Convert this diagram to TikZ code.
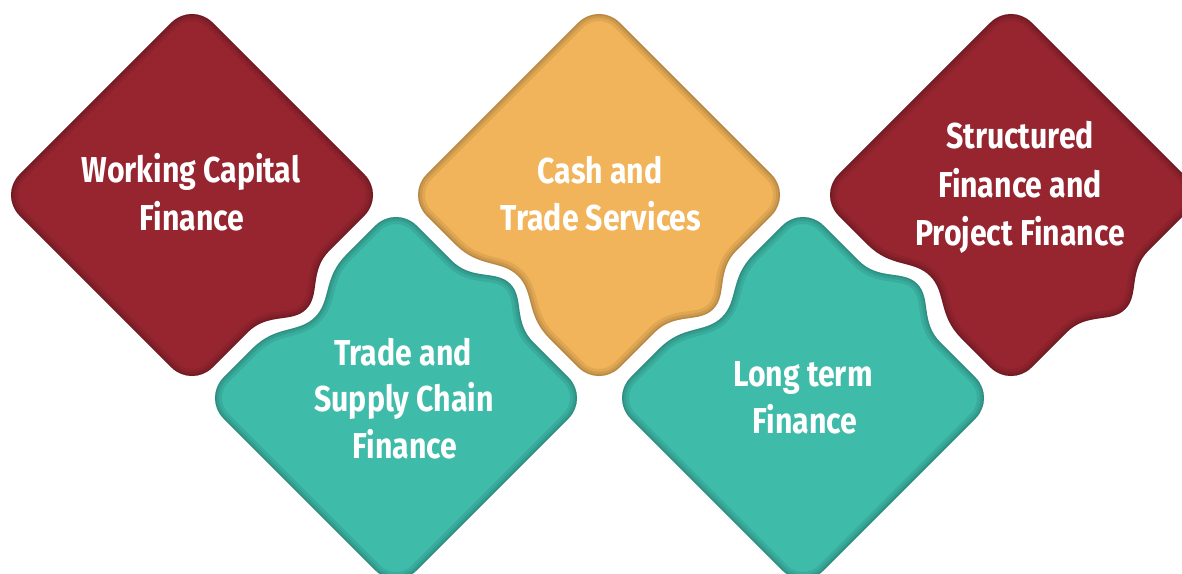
\documentclass[tikz,border=0pt]{standalone}
\usepackage{fontspec}
\newfontfamily\lblfont{Fira Sans}[FakeStretch=0.84]
\definecolor{cred}{HTML}{962530}
\definecolor{cyel}{HTML}{F2B45A}
\definecolor{cteal}{HTML}{3EBBA9}
\def\blH{136.5}
\def\blWb{58}
\def\blWd{66}
\def\blR{29}
\def\blK{13}
% #1 bottom-right bump, #2 bottom-left, #3 top-left, #4 top-right (positive = outward)
\newcommand\blobpath[4]{(0,{-\blH-(#4)})
 .. controls ({0.35*\blWb},{-\blH-(#4)}) and ({0.5*\blWb},-\blH) .. (\blWb,-\blH)
 -- ({\blH-\blR},-\blH) .. controls ({\blH-\blK},-\blH) and (\blH,{-\blH+\blK}) .. (\blH,{-\blH+\blR})
 -- (\blH,-\blWb) .. controls (\blH,{-0.5*\blWb}) and ({\blH+(#1)},{-0.35*\blWb}) .. ({\blH+(#1)},0)
 .. controls ({\blH+(#1)},{0.35*\blWb}) and (\blH,{0.5*\blWb}) .. (\blH,\blWb)
 -- (\blH,{\blH-\blR}) .. controls (\blH,{\blH-\blK}) and ({\blH-\blK},\blH) .. ({\blH-\blR},\blH)
 -- (\blWd,\blH) .. controls ({0.5*\blWd},\blH) and ({0.35*\blWd},{\blH+(#2)}) .. (0,{\blH+(#2)})
 .. controls ({-0.35*\blWd},{\blH+(#2)}) and ({-0.5*\blWd},\blH) .. (-\blWd,\blH)
 -- ({-\blH+\blR},\blH) .. controls ({-\blH+\blK},\blH) and (-\blH,{\blH-\blK}) .. (-\blH,{\blH-\blR})
 -- (-\blH,\blWd) .. controls (-\blH,{0.5*\blWd}) and ({-\blH-(#3)},{0.35*\blWd}) .. ({-\blH-(#3)},0)
 .. controls ({-\blH-(#3)},{-0.35*\blWd}) and (-\blH,{-0.5*\blWd}) .. (-\blH,-\blWd)
 -- (-\blH,{-\blH+\blR}) .. controls (-\blH,{-\blH+\blK}) and ({-\blH+\blK},-\blH) .. ({-\blH+\blR},-\blH)
 -- (-\blWb,-\blH) .. controls ({-0.5*\blWb},-\blH) and ({-0.35*\blWb},{-\blH-(#4)}) .. (0,{-\blH-(#4)}) -- cycle}
% #1 cx, #2 cy, #3 colour, #4..#7 bumps
\newcommand\blob[7]{%
  \begin{scope}[shift={(#1,#2)}, x={(0.70711pt,-0.70711pt)}, y={(-0.70711pt,-0.70711pt)}]
    \fill[#3] \blobpath{#4}{#5}{#6}{#7};
    \begin{scope}
      \clip \blobpath{#4}{#5}{#6}{#7};
      \draw[black, opacity=0.07, line width=14pt] \blobpath{#4}{#5}{#6}{#7};
      \draw[black, opacity=0.08, line width=8pt] \blobpath{#4}{#5}{#6}{#7};
      \draw[black, opacity=0.10, line width=3pt] \blobpath{#4}{#5}{#6}{#7};
    \end{scope}
  \end{scope}}
\tikzset{lbl/.style={anchor=base, text=white, inner sep=0pt, font=\lblfont\bfseries\fontsize{36}{40}\selectfont}}
\begin{document}
\begin{tikzpicture}[x=1pt, y=-1pt]
\useasboundingbox (0,0) rectangle (1182,573);
\blob{192}{195}{cred}{25}{0}{0}{0}
\blob{396}{398}{cteal}{0}{0}{-22}{25}
\blob{599}{195}{cyel}{25}{-22}{0}{0}
\blob{803}{398}{cteal}{0}{0}{-22}{25}
\blob{1011}{195}{cred}{25}{-22}{0}{0}
\node[lbl] (a1) at (191,182) {Working Capital};
\node[lbl] (a2) at (192,230) {Finance};
\node[lbl] (b1) at (403,365) {Trade and};
\node[lbl] (b2) at (404,411) {Supply Chain};
\node[lbl] (b3) at (405,458) {Finance};
\node[lbl] (c1) at (600,183) {Cash and};
\node[lbl] (c2) at (601,230) {Trade Services};
\node[lbl] (d1) at (803,386) {Long term};
\node[lbl] (d2) at (805,433) {Finance};
\node[lbl] (e1) at (1020,148) {Structured};
\node[lbl] (e2) at (1020,197) {Finance and};
\node[lbl] (e3) at (1020,245) {Project Finance};
\end{tikzpicture}
\end{document}
